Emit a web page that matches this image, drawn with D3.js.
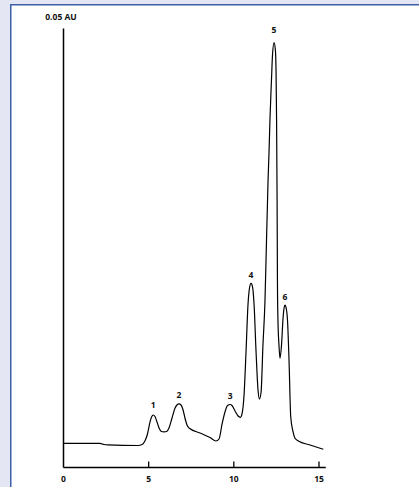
<!DOCTYPE html>
<html>
<head>
<meta charset="utf-8">
<script src="https://cdn.jsdelivr.net/npm/d3@7"></script>
<style>
  html, body { margin: 0; padding: 0; background: #e5e6f3; }
  svg { display: block; }
  text { font-family: "Open Sans", "DejaVu Sans", sans-serif; font-weight: bold; fill: #111; }
</style>
</head>
<body>
<svg id="chart" width="419" height="487"></svg>
<script>
// Retention time (min)
const times = [0, 2.17, 2.41, 2.64, 4.40, 4.64, 4.81, 4.96, 5.11, 5.20, 5.30, 5.40, 5.52, 5.64, 5.78, 5.93, 6.09,
  6.22, 6.40, 6.58, 6.69, 6.81, 6.93, 7.05, 7.16, 7.28, 7.42, 8.04, 8.63, 8.98, 9.16, 9.34, 9.51, 9.66, 9.82,
  9.92, 10.10, 10.28, 10.42, 10.51, 10.63, 10.75, 10.86, 10.95, 11.04, 11.13, 11.22, 11.33, 11.45, 11.53,
  11.63, 11.74, 11.86, 11.92, 12.04, 12.10, 12.15, 12.24, 12.30, 12.39, 12.47, 12.51, 12.54, 12.57, 12.59,
  12.62, 12.68, 12.74, 12.83, 12.92, 12.98, 13.03, 13.09, 13.18, 13.27, 13.37, 13.51, 13.62, 13.82, 14.50, 15.28];
// Absorbance (mAU)
const absorbance = [2.70, 2.70, 2.56, 2.51, 2.45, 2.56, 2.96, 3.76, 5.13, 5.69, 5.92, 5.75, 5.13, 4.44, 4.04, 3.99, 4.04,
  4.44, 5.58, 6.72, 7.06, 7.18, 7.06, 6.49, 5.58, 4.78, 4.41, 3.87, 3.36, 2.96, 3.19, 4.90, 6.26, 7.00, 7.12,
  7.00, 6.38, 5.81, 5.66, 6.04, 8.20, 13.33, 18.45, 20.39, 20.92, 20.50, 18.45, 13.33, 8.77, 7.74,
  8.54, 13.90, 19.02, 23.58, 32.69, 36.10, 39.52, 44.08, 46.92, 48.33, 47.49, 44.87, 39.52, 30.41, 21.30,
  16.74, 13.90, 12.38, 13.90, 16.97, 18.11, 18.45, 18.22, 16.74, 12.19, 5.73, 3.99, 3.27, 2.96, 2.51, 2.02];
// Peak labels
const peakNames = ["1", "2", "3", "4", "5", "6"];
const peakTimes = [5.30, 6.81, 9.82, 11.04, 12.39, 13.03];
const peakHeights = [5.92, 7.18, 7.12, 20.92, 48.33, 18.45];
// Axis ticks
const xTicks = [0, 5, 10, 15];
const yLabel = "0.05 AU";

const svg = d3.select("#chart");
const W = 419, H = 487;

// frame
svg.append("rect").attr("x", 10).attr("y", 4).attr("width", W - 10).attr("height", H - 4).attr("fill", "#ffffff");
svg.append("path").attr("d", `M10.75,${H} L10.75,4.75 L${W},4.75`)
  .attr("fill", "none").attr("stroke", "#3d5fa8").attr("stroke-width", 1.5);

const x = d3.scaleLinear().domain([0, 15.4]).range([63, 325.3]);
const y = d3.scaleLinear().domain([0, 50]).range([467, 28]);

// x axis
const xAxis = d3.axisBottom(x).tickValues(xTicks).tickSize(0).tickPadding(9).tickFormat(d3.format("d"));
const gx = svg.append("g").attr("transform", `translate(0,${y(0)})`).call(xAxis);
gx.select(".domain").attr("stroke", "#000").attr("stroke-width", 1.5);
gx.selectAll(".tick text").attr("font-size", 8.5).attr("font-weight", "bold")
  .attr("font-family", "'Open Sans', 'DejaVu Sans', sans-serif").attr("fill", "#111");
gx.selectAll(".tick").filter(d => d !== 0).append("line")
  .attr("y1", 0).attr("y2", -5.5).attr("stroke", "#000").attr("stroke-width", 1.3);

// y axis
const yAxis = d3.axisLeft(y).tickValues([]).tickSizeOuter(0);
const gy = svg.append("g").attr("transform", `translate(${x(0)},0)`).call(yAxis);
gy.select(".domain").attr("stroke", "#000").attr("stroke-width", 1.5);

svg.append("text").attr("x", x(0) - 2).attr("y", 20).attr("text-anchor", "middle")
  .attr("font-size", 8.5).text(yLabel);

// trace
const pts = times.map((t, i) => [t, absorbance[i]]);
const line = d3.line().x(d => x(d[0])).y(d => y(d[1])).curve(d3.curveMonotoneX);
svg.append("path").datum(pts).attr("d", line)
  .attr("fill", "none").attr("stroke", "#000").attr("stroke-width", 1.2).attr("stroke-linejoin", "round");

// peak labels
const labelGap = [7, 6, 5, 5, 10, 5];
svg.selectAll(".pk").data(peakNames).enter().append("text")
  .attr("class", "pk")
  .attr("x", (d, i) => x(peakTimes[i]))
  .attr("y", (d, i) => y(peakHeights[i]) - labelGap[i])
  .attr("text-anchor", "middle").attr("font-size", 8.5).text(d => d);
</script>
</body>
</html>
